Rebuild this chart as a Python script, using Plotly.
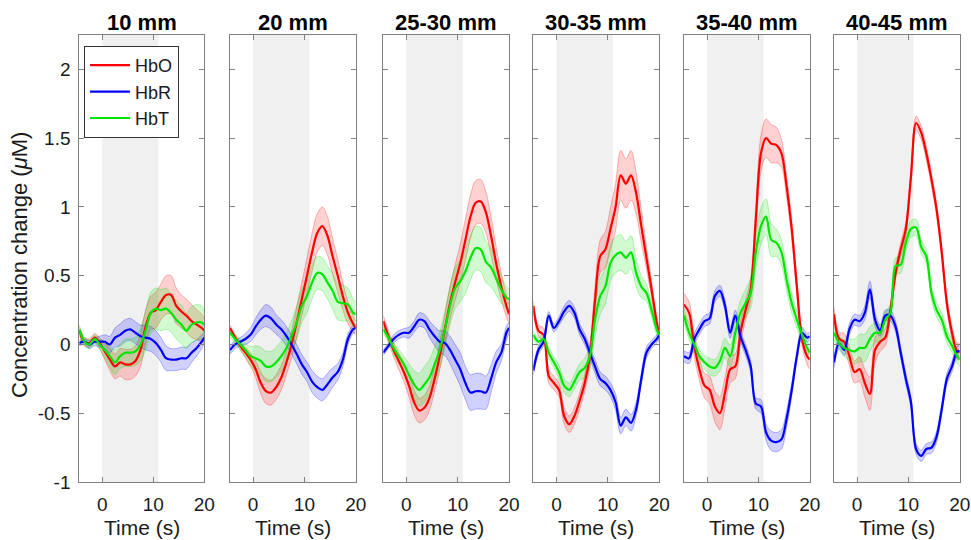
import plotly.graph_objects as go

# ---------------- data ----------------
T = [-4.5, -3.5, -2.5, -1.5, -0.5, 0.5, 1.5, 2.5, 3.5, 4.5, 5.5, 6.5, 7.5,
     8.5, 9.5, 10.5, 11.5, 12.5, 13.5, 14.5, 15.5, 16.5, 17.5, 18.5, 19.5, 20]

PANELS = ["10 mm", "20 mm", "25-30 mm", "30-35 mm", "35-40 mm", "40-45 mm"]
STIM_ON, STIM_OFF = 0, 11
Y_TICKS = [-1, -0.5, 0, 0.5, 1, 1.5, 2]
Y_TICK_TEXT = ["-1", "-0.5", "0", "0.5", "1", "1.5", "2"]
X_TICKS = [0, 10, 20]

# panel 1 (10 mm)
HBO_1 = [0.10, 0.02, 0.01, 0.05, 0.01, -0.05, -0.11, -0.16, -0.13, -0.145, -0.145, -0.12, -0.04,
         0.13, 0.23, 0.25, 0.31, 0.36, 0.36, 0.28, 0.24, 0.21, 0.17, 0.145, 0.12, 0.10]
HBR_1 = [0.01, 0.02, 0.0, 0.02, 0.02, 0.02, 0.0, 0.05, 0.07, 0.10, 0.11, 0.085, 0.06,
         0.05, 0.04, 0.01, -0.04, -0.10, -0.11, -0.11, -0.10, -0.10, -0.06, -0.025, 0.02, 0.05]
HBT_1 = [0.11, 0.02, 0.0, 0.04, 0.0, -0.04, -0.085, -0.13, -0.085, -0.06, -0.06, -0.05, 0.0,
         0.10, 0.23, 0.26, 0.25, 0.26, 0.23, 0.18, 0.145, 0.10, 0.145, 0.16, 0.16, 0.14]
EO_1 = [0.03, 0.03, 0.03, 0.03, 0.04, 0.06, 0.08, 0.09, 0.10, 0.11, 0.11, 0.11, 0.12,
        0.12, 0.12, 0.13, 0.13, 0.14, 0.14, 0.13, 0.12, 0.12, 0.12, 0.11, 0.10, 0.09]
ER_1 = [0.02, 0.02, 0.03, 0.03, 0.04, 0.05, 0.06, 0.07, 0.08, 0.08, 0.08, 0.08, 0.08,
        0.09, 0.09, 0.09, 0.09, 0.09, 0.08, 0.08, 0.08, 0.08, 0.07, 0.06, 0.05, 0.04]
ET_1 = [0.03, 0.03, 0.03, 0.03, 0.04, 0.06, 0.08, 0.09, 0.09, 0.10, 0.10, 0.10, 0.12,
        0.14, 0.15, 0.15, 0.15, 0.15, 0.14, 0.14, 0.14, 0.13, 0.13, 0.13, 0.12, 0.10]

# panel 2 (20 mm)
HBO_2 = [0.12, 0.05, -0.01, -0.06, -0.11, -0.18, -0.28, -0.34, -0.35, -0.31, -0.24, -0.13, 0.0,
         0.16, 0.33, 0.50, 0.67, 0.81, 0.86, 0.79, 0.64, 0.50, 0.35, 0.23, 0.15, 0.12]
HBR_2 = [-0.04, 0.0, 0.02, 0.04, 0.07, 0.13, 0.18, 0.21, 0.19, 0.145, 0.11, 0.06, 0.0,
         -0.07, -0.145, -0.20, -0.27, -0.31, -0.33, -0.29, -0.24, -0.20, -0.11, 0.04, 0.11, 0.12]
HBT_2 = [0.085, 0.04, 0.0, -0.04, -0.085, -0.10, -0.12, -0.16, -0.16, -0.13, -0.085, -0.025, 0.06,
         0.16, 0.28, 0.35, 0.45, 0.52, 0.51, 0.45, 0.39, 0.31, 0.30, 0.29, 0.23, 0.22]
EO_2 = [0.02, 0.02, 0.03, 0.04, 0.05, 0.06, 0.08, 0.09, 0.09, 0.09, 0.09, 0.09, 0.10,
        0.11, 0.12, 0.13, 0.14, 0.14, 0.14, 0.14, 0.13, 0.12, 0.10, 0.08, 0.06, 0.05]
ER_2 = [0.03, 0.03, 0.03, 0.04, 0.05, 0.06, 0.07, 0.08, 0.08, 0.07, 0.07, 0.07, 0.07,
        0.07, 0.07, 0.07, 0.08, 0.08, 0.08, 0.08, 0.07, 0.06, 0.05, 0.04, 0.03, 0.03]
ET_2 = [0.03, 0.03, 0.04, 0.05, 0.07, 0.09, 0.10, 0.11, 0.11, 0.11, 0.11, 0.11, 0.11,
        0.12, 0.12, 0.12, 0.12, 0.12, 0.12, 0.12, 0.13, 0.13, 0.13, 0.12, 0.10, 0.08]

# panel 3 (25-30 mm)
HBO_3 = [0.17, 0.06, -0.04, -0.12, -0.20, -0.30, -0.42, -0.48, -0.46, -0.39, -0.25, -0.085, 0.11,
         0.30, 0.45, 0.59, 0.76, 0.93, 1.03, 1.04, 0.96, 0.79, 0.59, 0.42, 0.28, 0.22]
HBR_3 = [-0.06, -0.01, 0.04, 0.07, 0.085, 0.085, 0.13, 0.18, 0.17, 0.11, 0.06, 0.02, 0.01,
         -0.04, -0.11, -0.18, -0.28, -0.35, -0.34, -0.34, -0.35, -0.25, -0.13, -0.06, 0.085, 0.12]
HBT_3 = [0.11, 0.05, -0.025, -0.085, -0.145, -0.22, -0.29, -0.33, -0.29, -0.24, -0.145, -0.04, 0.11,
         0.28, 0.41, 0.46, 0.53, 0.63, 0.70, 0.69, 0.60, 0.56, 0.48, 0.40, 0.34, 0.33]
EO_3 = [0.04, 0.04, 0.05, 0.06, 0.07, 0.08, 0.09, 0.09, 0.09, 0.09, 0.09, 0.10, 0.11,
        0.12, 0.13, 0.14, 0.15, 0.16, 0.16, 0.16, 0.15, 0.14, 0.12, 0.10, 0.08, 0.07]
ER_3 = [0.02, 0.02, 0.03, 0.03, 0.03, 0.04, 0.04, 0.05, 0.05, 0.06, 0.07, 0.08, 0.09,
        0.10, 0.11, 0.12, 0.12, 0.13, 0.13, 0.13, 0.12, 0.10, 0.08, 0.06, 0.05, 0.04]
ET_3 = [0.03, 0.03, 0.04, 0.05, 0.06, 0.08, 0.10, 0.12, 0.13, 0.13, 0.13, 0.13, 0.13,
        0.14, 0.15, 0.15, 0.16, 0.16, 0.16, 0.16, 0.15, 0.14, 0.12, 0.10, 0.08, 0.07]

# panel 4 (30-35 mm)
HBO_4 = [0.28, 0.10, 0.07, -0.23, -0.28, -0.33, -0.52, -0.58, -0.52, -0.41, -0.28, -0.085, 0.32,
         0.64, 0.69, 0.84, 1.00, 1.23, 1.17, 1.23, 1.10, 0.86, 0.63, 0.40, 0.16, 0.07]
HBR_4 = [-0.19, -0.04, 0.02, 0.21, 0.12, 0.17, 0.24, 0.28, 0.23, 0.11, 0.04, -0.06, -0.16,
         -0.25, -0.28, -0.33, -0.42, -0.59, -0.53, -0.57, -0.47, -0.25, -0.06, 0.0, 0.04, 0.07]
HBT_4 = [0.07, 0.02, 0.04, -0.06, -0.13, -0.20, -0.30, -0.33, -0.27, -0.20, -0.17, -0.085, 0.18,
         0.35, 0.42, 0.59, 0.65, 0.67, 0.63, 0.67, 0.52, 0.42, 0.375, 0.25, 0.11, 0.07]
EO_4 = [0.04, 0.04, 0.05, 0.05, 0.05, 0.05, 0.06, 0.06, 0.06, 0.06, 0.06, 0.08, 0.10,
        0.12, 0.13, 0.15, 0.17, 0.18, 0.18, 0.18, 0.15, 0.12, 0.08, 0.06, 0.05, 0.04]
ER_4 = [0.03, 0.03, 0.03, 0.03, 0.03, 0.03, 0.04, 0.04, 0.04, 0.04, 0.04, 0.04, 0.05,
        0.05, 0.05, 0.05, 0.06, 0.06, 0.06, 0.06, 0.05, 0.04, 0.04, 0.03, 0.03, 0.03]
ET_4 = [0.03, 0.03, 0.03, 0.04, 0.04, 0.05, 0.05, 0.05, 0.05, 0.06, 0.07, 0.09, 0.12,
        0.13, 0.13, 0.13, 0.13, 0.13, 0.12, 0.12, 0.10, 0.08, 0.06, 0.05, 0.04, 0.04]

# panel 5 (35-40 mm)
HBO_5 = [0.29, 0.23, -0.01, -0.18, -0.30, -0.33, -0.45, -0.50, -0.35, -0.18, -0.16, 0.085, 0.25,
         0.40, 0.91, 1.39, 1.50, 1.46, 1.45, 1.39, 1.15, 0.84, 0.42, 0.04, -0.085, -0.11]
HBR_5 = [-0.085, -0.10, 0.04, 0.11, 0.17, 0.19, 0.35, 0.39, 0.28, 0.085, 0.21, 0.06, -0.04,
         -0.16, -0.43, -0.45, -0.64, -0.70, -0.71, -0.69, -0.54, -0.33, -0.085, 0.085, 0.05, 0.06]
HBT_5 = [0.21, 0.085, 0.0, -0.085, -0.13, -0.16, -0.17, -0.12, -0.025, -0.085, 0.085, 0.23, 0.30,
         0.375, 0.67, 0.86, 0.93, 0.76, 0.74, 0.67, 0.47, 0.30, 0.18, 0.07, -0.025, -0.06]
EO_5 = [0.08, 0.08, 0.08, 0.08, 0.09, 0.10, 0.11, 0.12, 0.11, 0.10, 0.09, 0.08, 0.07,
        0.08, 0.10, 0.13, 0.14, 0.14, 0.13, 0.10, 0.08, 0.07, 0.06, 0.05, 0.06, 0.07]
ER_5 = [0.04, 0.04, 0.04, 0.04, 0.04, 0.04, 0.04, 0.04, 0.04, 0.04, 0.04, 0.04, 0.04,
        0.04, 0.04, 0.05, 0.06, 0.07, 0.07, 0.07, 0.06, 0.05, 0.04, 0.04, 0.03, 0.03]
ET_5 = [0.05, 0.05, 0.05, 0.05, 0.05, 0.06, 0.06, 0.07, 0.07, 0.08, 0.08, 0.09, 0.10,
        0.11, 0.12, 0.13, 0.13, 0.12, 0.10, 0.09, 0.08, 0.07, 0.06, 0.05, 0.05, 0.06]

# panel 6 (40-45 mm)
HBO_6 = [0.22, 0.04, 0.02, -0.085, -0.20, -0.18, -0.28, -0.36, -0.04, 0.02, 0.05, 0.25, 0.52,
         0.69, 0.84, 1.22, 1.61, 1.54, 1.39, 1.20, 0.98, 0.67, 0.30, 0.085, -0.05, -0.05]
HBR_6 = [-0.13, 0.01, -0.04, 0.11, 0.18, 0.17, 0.23, 0.40, 0.18, 0.10, 0.21, 0.21, 0.13,
         -0.06, -0.25, -0.42, -0.76, -0.81, -0.76, -0.75, -0.67, -0.47, -0.25, -0.16, -0.05, -0.05]
HBT_6 = [0.085, 0.01, -0.025, -0.04, -0.05, -0.025, -0.025, 0.04, 0.085, 0.085, 0.18, 0.23, 0.57,
         0.58, 0.74, 0.84, 0.85, 0.71, 0.64, 0.375, 0.25, 0.18, 0.06, -0.01, -0.085, -0.11]
EO_6 = [0.05, 0.05, 0.06, 0.07, 0.08, 0.09, 0.10, 0.12, 0.09, 0.07, 0.06, 0.05, 0.05,
        0.05, 0.05, 0.05, 0.05, 0.05, 0.05, 0.05, 0.05, 0.05, 0.05, 0.05, 0.06, 0.06]
ER_6 = [0.04, 0.04, 0.04, 0.04, 0.04, 0.04, 0.05, 0.06, 0.05, 0.04, 0.04, 0.04, 0.04,
        0.04, 0.04, 0.04, 0.04, 0.04, 0.04, 0.04, 0.04, 0.04, 0.04, 0.04, 0.04, 0.04]
ET_6 = [0.05, 0.05, 0.06, 0.08, 0.09, 0.10, 0.10, 0.09, 0.07, 0.06, 0.06, 0.06, 0.06,
        0.06, 0.06, 0.06, 0.06, 0.05, 0.05, 0.05, 0.05, 0.05, 0.05, 0.05, 0.05, 0.05]

HBO = [HBO_1, HBO_2, HBO_3, HBO_4, HBO_5, HBO_6]
HBR = [HBR_1, HBR_2, HBR_3, HBR_4, HBR_5, HBR_6]
HBT = [HBT_1, HBT_2, HBT_3, HBT_4, HBT_5, HBT_6]
EO = [EO_1, EO_2, EO_3, EO_4, EO_5, EO_6]
ER = [ER_1, ER_2, ER_3, ER_4, ER_5, ER_6]
ET = [ET_1, ET_2, ET_3, ET_4, ET_5, ET_6]

# ---------------- style / layout ----------------
W, H = 971, 540
FONT = "Liberation Sans, Arial, Helvetica, sans-serif"
SERIES = [("HbO", (255, 0, 0)), ("HbR", (0, 0, 255)), ("HbT", (0, 230, 0))]
PANEL_PX = [(79.3, 204.3), (230, 355.7), (383.3, 509), (533.3, 659.3), (684, 809.7), (834, 959.7)]
TOP_PX, BOT_PX = 35, 482
AX_COLOR = "#808080"

fig = go.Figure()

for p in range(6):
    sfx = "" if p == 0 else str(p + 1)
    xa, ya = "x" + sfx, "y" + sfx
    means = [HBO[p], HBR[p], HBT[p]]
    errs = [EO[p], ER[p], ET[p]]
    # shaded bands
    for (name, rgb), m, e in zip(SERIES, means, errs):
        r, g, b = rgb
        lo = [mi - ei for mi, ei in zip(m, e)]
        hi = [mi + ei for mi, ei in zip(m, e)]
        edge = dict(color=f"rgba({r},{g},{b},0.35)", width=0.8, shape="spline", smoothing=0.9)
        fig.add_trace(go.Scatter(x=T, y=lo, mode="lines", line=edge, xaxis=xa, yaxis=ya,
                                 showlegend=False, hoverinfo="skip"))
        fig.add_trace(go.Scatter(x=T, y=hi, mode="lines", line=edge, fill="tonexty",
                                 fillcolor=f"rgba({r},{g},{b},0.18)", xaxis=xa, yaxis=ya,
                                 showlegend=False, hoverinfo="skip"))
    # mean lines
    for (name, rgb), m in zip(SERIES, means):
        r, g, b = rgb
        fig.add_trace(go.Scatter(x=T, y=m, mode="lines", name=name,
                                 showlegend=(p == 0),
                                 line=dict(color=f"rgb({r},{g},{b})", width=2.2,
                                           shape="spline", smoothing=0.9),
                                 xaxis=xa, yaxis=ya))

    x0, x1 = PANEL_PX[p]
    dom_x = [x0 / W, x1 / W]
    dom_y = [1 - BOT_PX / H, 1 - TOP_PX / H]
    common = dict(showline=True, linecolor=AX_COLOR, linewidth=1, mirror="ticks",
                  ticks="inside", ticklen=5, tickcolor=AX_COLOR, showgrid=False,
                  zeroline=False, automargin=False,
                  tickfont=dict(family=FONT, size=19, color="#1a1a1a"))
    fig.layout["xaxis" + sfx] = dict(domain=dom_x, range=[-4.5, 20], anchor=ya,
                                     tickvals=X_TICKS, ticklabelstandoff=5, **common)
    fig.layout["yaxis" + sfx] = dict(domain=dom_y, range=[-1, 2.25], anchor=xa,
                                     tickvals=Y_TICKS, ticktext=Y_TICK_TEXT,
                                     showticklabels=(p == 0), ticklabelstandoff=4, **common)
    fig.add_shape(type="rect", xref=xa, yref=ya + " domain", x0=STIM_ON, x1=STIM_OFF,
                  y0=0, y1=1, fillcolor="#f0f0f0", line_width=0, layer="below")
    cx = (x0 + x1) / 2 / W
    fig.add_annotation(text="<b>" + PANELS[p] + "</b>", xref="paper", yref="paper",
                       x=cx, y=1 - 22 / H, xanchor="center", yanchor="middle",
                       showarrow=False, font=dict(family=FONT, size=22, color="black"))
    fig.add_annotation(text="Time (s)", xref="paper", yref="paper",
                       x=cx, y=1 - 527 / H, xanchor="center", yanchor="middle",
                       showarrow=False, font=dict(family=FONT, size=21, color="#1a1a1a"))

fig.add_annotation(text="Concentration change (<i>μ</i>M)", xref="paper", yref="paper",
                   x=19 / W, y=1 - 265 / H, xanchor="center", yanchor="middle",
                   textangle=-90, showarrow=False,
                   font=dict(family=FONT, size=22, color="#1a1a1a"))

fig.update_layout(
    width=W, height=H, margin=dict(l=0, r=0, t=0, b=0),
    paper_bgcolor="white", plot_bgcolor="white",
    font=dict(family=FONT),
    legend=dict(x=84 / W, y=1 - 46 / H, xanchor="left", yanchor="top",
                bgcolor="white", bordercolor="#333333", borderwidth=1,
                font=dict(family=FONT, size=18, color="#1a1a1a"),
                itemwidth=40, tracegroupgap=0, traceorder="normal"),
)

fig.write_html("out.html",
               config={"displayModeBar": False},
               post_script="document.body.style.margin='0';"
                           "document.body.style.padding='0';"
                           "document.body.style.overflow='hidden';")
